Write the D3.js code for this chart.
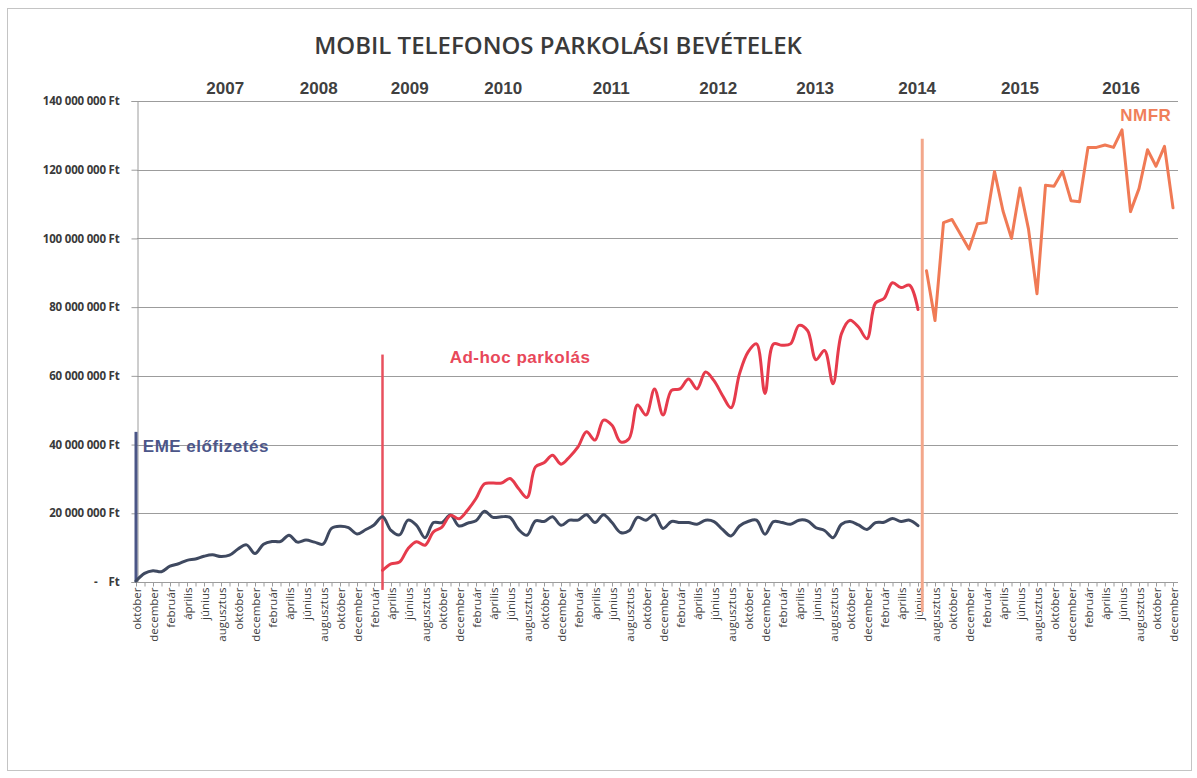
<!DOCTYPE html>
<html>
<head>
<meta charset="utf-8">
<script src="https://cdn.jsdelivr.net/npm/d3@7/dist/d3.min.js"></script>
<style>
  body { margin: 0; background: #fff; }
  text { font-family: "Liberation Sans", Arial, sans-serif; }
</style>
</head>
<body>
<svg id="chart" width="1197" height="778"></svg>
<script>
// DATA (millions Ft, one value per month, first month = 2006 október)
var MONTH_NAMES = ["január","február","március","április","május","június",
                   "július","augusztus","szeptember","október","november","december"];
var FIRST_MONTH = 9;   // október
var N_MONTHS = 123;    // 2006 október .. 2016 december
var categories = d3.range(N_MONTHS).map(function(i) { return MONTH_NAMES[(FIRST_MONTH + i) % 12]; });

var yTicks = [0, 20, 40, 60, 80, 100, 120, 140];

var years = ["2007","2008","2009","2010","2011","2012","2013","2014","2015","2016"];
var yearAt = [10.5, 21.5, 32.2, 43.2, 55.9, 68.5, 79.9, 91.9, 104, 115.9];

var EME_START = 0;
var emeValues = [
  0.3, 2.5, 3.3, 3.0, 4.6, 5.3, 6.3, 6.7, 7.5, 7.9,
  7.4, 7.8, 9.6, 10.8, 8.3, 11.0, 11.8, 11.8, 13.6, 11.6,
  12.2, 11.6, 11.0, 15.6, 16.2, 15.8, 14.0, 15.2, 16.6, 19.0,
  15.0, 13.7, 18.0, 16.5, 12.9, 17.3, 17.3, 19.5, 16.3, 17.1,
  17.8, 20.6, 18.8, 19.0, 18.8, 15.3, 13.6, 17.8, 17.6, 19.0,
  16.5, 18.0, 18.0, 19.6, 17.3, 19.6, 17.3, 14.4, 14.9, 18.8,
  18.0, 19.6, 15.6, 17.6, 17.3, 17.3, 16.8, 18.0, 17.6, 15.3,
  13.4, 16.3, 17.6, 18.0, 13.9, 17.6, 17.3, 16.8, 18.0, 17.8,
  15.8, 15.0, 12.9, 16.8, 17.6, 16.6, 15.3, 17.3, 17.4, 18.5,
  17.6, 18.0, 16.4
];

var ADHOC_START = 29;  // 2009 március
var adhocValues = [
  3.4, 5.3, 5.8, 9.7, 11.7, 10.7, 14.6, 16.0, 19.4, 18.4,
  20.9, 24.3, 28.6, 28.8, 28.8, 30.1, 27.2, 24.6, 33.5, 34.7,
  36.9, 34.3, 36.4, 39.3, 43.7, 41.3, 47.1, 45.6, 40.8, 41.7,
  51.5, 48.6, 56.2, 48.6, 55.8, 56.2, 59.1, 56.2, 61.1, 58.6,
  54.3, 50.7, 60.6, 66.9, 69.3, 54.9, 69.3, 68.9, 69.3, 74.7,
  73.2, 64.7, 67.4, 57.7, 72.3, 76.2, 74.2, 70.8, 81.2, 82.5,
  87.1, 85.7, 86.4, 79.3
];

var NMFR_START = 93;   // 2014 július
var nmfrValues = [
  90.6, 76.1, 104.6, 105.5, 101.2, 96.9, 104.3, 104.6, 119.5, 108.0,
  100.0, 114.7, 102.7, 83.9, 115.5, 115.2, 119.5, 111.0, 110.7, 126.5,
  126.5, 127.2, 126.5, 131.6, 107.8, 114.5, 125.8, 121.0, 126.8, 108.9
];

// start markers (month index, top value, bottom value)
var markers = [
  { at: 0,    top: 43.7,  bottom: 0,    color: "#4b5687", width: 3 },
  { at: 29,   top: 66.2,  bottom: -2.3, color: "#e8505e", width: 2.5 },
  { at: 92.5, top: 129.0, bottom: -8.7, color: "#f3a78b", width: 3 }
];

var labels = [
  { text: "EME előfizetés",  at: 0.8,   value: 37.9,  color: "#4c5689" },
  { text: "Ad-hoc parkolás", at: 36.9,  value: 63.8,  color: "#e8485a" },
  { text: "NMFR",            at: 115.8, value: 134.3, color: "#f07f5a" }
];

// LAYOUT
var svg = d3.select("#chart");
var plotLeft = 137, plotRight = 1178, plotTop = 101, plotBottom = 582;

var x = d3.scaleLinear().domain([0, N_MONTHS - 1]).range([136, 1173]);
var y = d3.scaleLinear().domain([0, 140]).range([plotBottom, plotTop]);

// frame
svg.append("rect")
    .attr("x", 7.5).attr("y", 8.5)
    .attr("width", 1184).attr("height", 762)
    .attr("fill", "#fff")
    .attr("stroke", "#c4c4c4");

// title
svg.append("text")
    .attr("x", 558).attr("y", 54)
    .attr("text-anchor", "middle")
    .style("font-family", "'Open Sans', sans-serif")
    .style("font-weight", 600)
    .style("font-size", "24px")
    .attr("fill", "#3a3a3a")
    .text("MOBIL TELEFONOS PARKOLÁSI BEVÉTELEK");

// year labels
svg.append("g").selectAll("text")
    .data(years)
    .enter().append("text")
      .attr("x", function(d, i) { return x(yearAt[i]); })
      .attr("y", 94)
      .attr("text-anchor", "middle")
      .style("font-weight", "bold")
      .style("font-size", "17px")
      .attr("fill", "#404040")
      .text(function(d) { return d; });

// gridlines
svg.append("g")
    .selectAll("line")
    .data(yTicks)
    .enter().append("line")
      .attr("x1", plotLeft).attr("x2", plotRight)
      .attr("y1", function(d) { return Math.round(y(d)) + 0.5; })
      .attr("y2", function(d) { return Math.round(y(d)) + 0.5; })
      .attr("stroke", "#9c9c9c")
      .attr("stroke-width", 1);

// y axis
var fmt = d3.formatLocale({ decimal: ",", thousands: " ", grouping: [3], currency: ["", ""] }).format(",");
var yAxis = d3.axisLeft(y)
    .tickValues(yTicks)
    .tickSize(6)
    .tickPadding(12)
    .tickFormat(function(d) { return d === 0 ? "-    Ft" : fmt(d * 1000000) + " Ft"; });

var gy = svg.append("g")
    .attr("transform", "translate(" + (plotLeft + 0.5) + ",0)")
    .call(yAxis);
gy.select(".domain").attr("stroke", "#9c9c9c");
gy.selectAll(".tick line").attr("stroke", "#9c9c9c");
gy.selectAll(".tick text")
    .style("font-family", "'Open Sans', sans-serif")
    .style("font-weight", 700)
    .style("font-size", "11.5px")
    .style("letter-spacing", "-0.2px")
    .style("white-space", "pre")
    .attr("fill", "#3a3a3a");

// x axis
var xAxis = d3.axisBottom(x)
    .tickValues(d3.range(N_MONTHS))
    .tickSize(4)
    .tickSizeOuter(0)
    .tickFormat(function(i) { return i % 2 === 0 ? categories[i] : ""; });

var gx = svg.append("g")
    .attr("transform", "translate(0," + (plotBottom + 0.5) + ")")
    .call(xAxis);
gx.select(".domain").attr("stroke", "#9c9c9c").attr("d", "M" + plotLeft + ",0H" + plotRight);
gx.selectAll(".tick line").attr("stroke", "#9c9c9c");
gx.selectAll(".tick text")
    .attr("transform", "rotate(-90)")
    .attr("text-anchor", "end")
    .attr("x", -5)
    .attr("y", 0)
    .attr("dy", "0.35em")
    .style("font-family", "'Open Sans', sans-serif")
    .style("font-size", "11.5px")
    .attr("fill", "#3e3e3e");

// start markers
svg.append("g").selectAll("line")
    .data(markers)
    .enter().append("line")
      .attr("x1", function(d) { return x(d.at); })
      .attr("x2", function(d) { return x(d.at); })
      .attr("y1", function(d) { return y(d.top); })
      .attr("y2", function(d) { return y(d.bottom); })
      .attr("stroke", function(d) { return d.color; })
      .attr("stroke-width", function(d) { return d.width; });

// series
function series(values, start, color, curve) {
  var line = d3.line()
      .x(function(d, i) { return x(start + i); })
      .y(function(d) { return y(d); })
      .curve(curve);
  svg.append("path")
      .datum(values)
      .attr("d", line)
      .attr("fill", "none")
      .attr("stroke", color)
      .attr("stroke-width", 3)
      .attr("stroke-linejoin", "round")
      .attr("stroke-linecap", "round");
}

series(emeValues, EME_START, "#3f4960", d3.curveCatmullRom.alpha(0.5));
series(adhocValues, ADHOC_START, "#e63b4c", d3.curveCatmullRom.alpha(0.5));
series(nmfrValues, NMFR_START, "#f07a55", d3.curveLinear);

// series labels
svg.append("g").selectAll("text")
    .data(labels)
    .enter().append("text")
      .attr("x", function(d) { return x(d.at); })
      .attr("y", function(d) { return y(d.value); })
      .style("font-weight", "bold")
      .style("font-size", "17px")
      .style("letter-spacing", "0.5px")
      .attr("fill", function(d) { return d.color; })
      .text(function(d) { return d.text; });
</script>
</body>
</html>
